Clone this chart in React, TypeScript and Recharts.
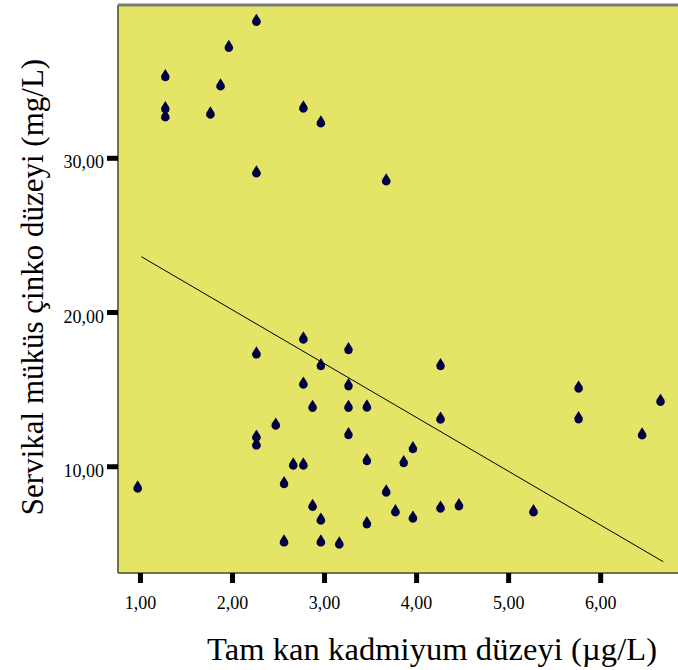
import React from "react";
import {
  ScatterChart,
  Scatter,
  XAxis,
  YAxis,
  ReferenceArea,
  ReferenceLine,
} from "recharts";

// kadmiyum (x) / çinko (y) values
const cadmium = [
  0.97, 1.27, 1.27, 1.27, 1.76, 1.87, 1.96, 2.26, 2.26, 2.26, 2.26, 2.26, 2.47,
  2.56, 2.56, 2.66, 2.77, 2.77, 2.77, 2.77, 2.87, 2.87, 2.96, 2.96, 2.96, 2.96,
  3.16, 3.26, 3.26, 3.26, 3.26, 3.46, 3.46, 3.46, 3.67, 3.67, 3.77, 3.86, 3.96,
  3.96, 4.26, 4.26, 4.26, 4.46, 5.27, 5.76, 5.76, 6.45, 6.65,
];
const zinc = [
  8.6, 35.27, 33.2, 32.66, 32.85, 34.67, 37.17, 38.86, 29.03, 17.29, 11.9, 11.39,
  12.68, 8.88, 5.1, 10.09, 33.24, 18.26, 15.34, 10.09, 13.83, 7.41, 32.27, 16.53,
  6.52, 5.1, 4.97, 17.57, 15.23, 13.83, 12.06, 13.85, 10.37, 6.28, 28.51, 8.34,
  7.06, 10.24, 11.15, 6.65, 16.53, 13.07, 7.3, 7.45, 7.06, 15.08, 13.09, 12.04,
  14.22,
];

// fit line end points
const fitX = [1.01, 6.68];
const fitY = [23.62, 3.84];

const xTicks = [1, 2, 3, 4, 5, 6];
const yTicks = [10, 20, 30];

const X_DOMAIN: [number, number] = [0.756, 6.84];
const Y_DOMAIN: [number, number] = [3.11, 39.94];

const FONT = '"Liberation Serif", "Times New Roman", serif';
const YELLOW = "#e4e466";
const FRAME = "#73733a";

const points = cadmium.map((x, i) => ({ x, y: zinc[i] }));
const fitLine = fitX.map((x, i) => ({ x, y: fitY[i] }));

const fmt = (v: number) => v.toFixed(2).replace(".", ",");

function Drop(props: any) {
  const { cx, cy } = props;
  if (cx == null || cy == null) return <g />;
  const d = `M ${cx} ${cy - 8} L ${cx + 3.9} ${cy - 1.8} A 4.3 4.3 0 1 1 ${cx - 3.9} ${cy - 1.8} Z`;
  return <path d={d} fill="#000040" />;
}

function XTick(props: any) {
  const { x, y, payload } = props;
  return (
    <text x={x} y={y} dy={24} textAnchor="middle" fontFamily={FONT} fontSize={18} fill="#000">
      {fmt(payload.value)}
    </text>
  );
}

function YTick(props: any) {
  const { x, y, payload } = props;
  return (
    <text x={x - 1} y={y} dy={10} textAnchor="end" fontFamily={FONT} fontSize={18} fill="#000">
      {fmt(payload.value)}
    </text>
  );
}

export default function App() {
  return (
    <div style={{ position: "absolute", left: 0, top: 0, width: 678, height: 670, background: "#fff" }}>
      <ScatterChart width={678} height={670} margin={{ top: 5, right: 0, bottom: 0, left: 0 }}>
        <XAxis
          type="number"
          dataKey="x"
          domain={X_DOMAIN}
          ticks={xTicks}
          allowDataOverflow
          height={97}
          tickSize={10}
          tickLine={{ stroke: "#000", strokeWidth: 5 }}
          axisLine={{ stroke: FRAME, strokeWidth: 2 }}
          tick={<XTick />}
        />
        <YAxis
          type="number"
          dataKey="y"
          domain={Y_DOMAIN}
          ticks={yTicks}
          allowDataOverflow
          width={118}
          tickSize={11}
          tickLine={{ stroke: "#000", strokeWidth: 5 }}
          axisLine={{ stroke: FRAME, strokeWidth: 2 }}
          tick={<YTick />}
        />
        <ReferenceArea
          x1={X_DOMAIN[0]}
          x2={X_DOMAIN[1]}
          y1={Y_DOMAIN[0]}
          y2={Y_DOMAIN[1]}
          fill={YELLOW}
          fillOpacity={1}
          stroke="none"
          ifOverflow="hidden"
        />
        <ReferenceLine y={Y_DOMAIN[1]} stroke="#7a7a7a" strokeWidth={3} />
        <Scatter
          data={fitLine}
          line={{ stroke: "#000", strokeWidth: 1 }}
          shape={() => <g />}
          isAnimationActive={false}
        />
        <Scatter data={points} shape={<Drop />} isAnimationActive={false} />
        <text
          x={432}
          y={660}
          textAnchor="middle"
          fontFamily={FONT}
          fontSize={32.5}
          fill="#000"
          textLength={450}
          lengthAdjust="spacing"
        >
          Tam kan kadmiyum düzeyi (µg/L)
        </text>
        <text
          x={43}
          y={287}
          textAnchor="middle"
          fontFamily={FONT}
          fontSize={31}
          fill="#000"
          transform="rotate(-90, 43, 287)"
        >
          Servikal müküs çinko düzeyi (mg/L)
        </text>
      </ScatterChart>
    </div>
  );
}
